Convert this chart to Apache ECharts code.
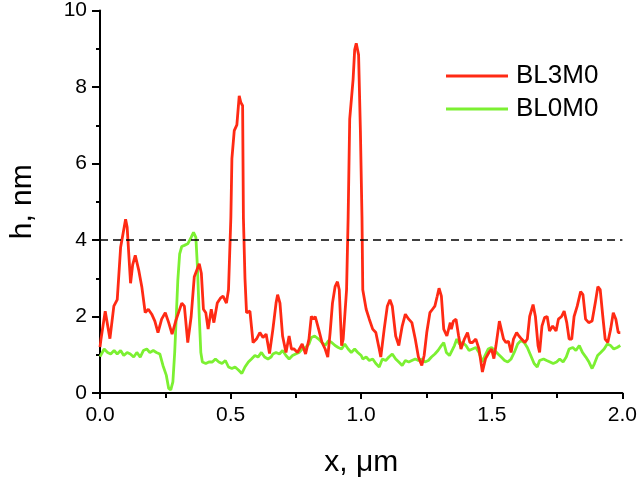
<!DOCTYPE html>
<html>
<head>
<meta charset="utf-8">
<script src="https://cdn.jsdelivr.net/npm/echarts@6/dist/echarts.min.js"></script>
<style>html,body{margin:0;padding:0;background:#fff}#c{width:640px;height:483px}</style>
</head>
<body>
<div id="c"></div>
<script>
const seriesNames = ['BL3M0', 'BL0M0'];
const xTicks = [0, 0.5, 1.0, 1.5, 2.0];
const yTicks = [0, 2, 4, 6, 8, 10];
const refLevel = 4;

const redX = [0.0,0.004,0.02,0.038,0.053,0.066,0.079,0.098,0.104,0.117,0.125,0.135,0.148,0.16,0.173,0.185,0.198,0.21,0.222,0.236,0.25,0.263,0.276,0.292,0.313,0.323,0.336,0.349,0.361,0.38,0.388,0.396,0.405,0.414,0.426,0.436,0.449,0.461,0.471,0.484,0.492,0.501,0.505,0.514,0.524,0.533,0.539,0.546,0.549,0.555,0.561,0.574,0.586,0.599,0.612,0.624,0.636,0.649,0.662,0.674,0.68,0.689,0.699,0.712,0.724,0.733,0.743,0.756,0.774,0.787,0.8,0.809,0.818,0.824,0.837,0.85,0.862,0.872,0.881,0.89,0.9,0.909,0.916,0.925,0.931,0.944,0.95,0.956,0.969,0.975,0.981,0.99,0.997,1.003,1.006,1.019,1.031,1.044,1.056,1.069,1.075,1.088,1.1,1.11,1.119,1.132,1.144,1.157,1.169,1.182,1.194,1.207,1.219,1.232,1.241,1.251,1.263,1.273,1.282,1.291,1.298,1.307,1.316,1.328,1.341,1.345,1.353,1.363,1.373,1.382,1.395,1.407,1.416,1.426,1.439,1.451,1.464,1.476,1.489,1.499,1.508,1.516,1.529,1.536,1.545,1.554,1.564,1.574,1.583,1.595,1.604,1.614,1.627,1.636,1.645,1.658,1.667,1.677,1.683,1.692,1.702,1.712,1.721,1.733,1.746,1.755,1.767,1.777,1.787,1.796,1.806,1.815,1.827,1.84,1.849,1.859,1.871,1.884,1.896,1.906,1.915,1.925,1.934,1.944,1.955,1.965,1.975,1.984,1.992];
const redY = [1.2,1.42,2.14,1.42,2.27,2.44,3.81,4.54,4.33,2.87,3.35,3.6,3.22,2.78,2.1,2.19,2.06,1.88,1.58,1.93,2.1,1.84,1.54,1.93,2.35,2.27,1.32,2.0,3.04,3.38,3.13,2.19,2.1,1.67,2.19,1.84,2.35,2.48,2.53,2.35,2.7,4.59,6.13,6.86,7.01,7.77,7.6,7.51,4.59,3.0,2.1,2.14,1.32,1.41,1.58,1.45,1.54,1.03,1.67,2.35,2.57,2.35,1.49,1.06,1.49,1.15,1.15,1.06,1.28,1.02,1.41,2.0,1.93,2.0,1.67,1.32,1.15,0.94,1.58,2.35,2.78,2.91,2.7,1.24,1.41,2.7,4.59,7.16,8.2,8.97,9.14,8.84,6.83,4.59,2.7,2.19,1.93,1.67,1.58,1.15,0.94,1.67,2.27,2.44,2.27,1.49,1.24,1.75,2.06,1.93,1.84,1.41,0.94,0.72,0.98,1.58,2.1,2.19,2.27,2.53,2.74,2.53,1.67,1.49,1.84,1.67,1.88,1.93,1.49,1.15,1.41,1.58,1.32,1.32,1.41,1.15,0.55,0.9,1.06,1.15,0.9,1.24,1.88,1.84,1.41,1.32,1.35,1.06,1.41,1.58,1.49,1.41,1.32,1.41,2.0,2.31,2.0,1.24,1.06,1.75,1.97,2.0,1.62,1.75,1.62,1.93,2.0,2.14,1.84,1.41,1.41,2.0,2.27,2.65,2.57,1.93,1.84,1.88,2.35,2.78,2.7,2.0,1.41,1.32,1.67,2.1,1.93,1.58,1.58];

const greenX = [0.0,0.004,0.016,0.029,0.041,0.054,0.066,0.079,0.091,0.104,0.116,0.129,0.141,0.154,0.166,0.179,0.191,0.204,0.216,0.229,0.241,0.254,0.263,0.271,0.279,0.286,0.292,0.298,0.305,0.313,0.323,0.336,0.349,0.358,0.367,0.373,0.38,0.386,0.392,0.405,0.417,0.43,0.442,0.455,0.467,0.48,0.492,0.505,0.517,0.53,0.543,0.555,0.568,0.58,0.593,0.605,0.618,0.63,0.643,0.655,0.662,0.674,0.687,0.699,0.712,0.724,0.737,0.749,0.762,0.774,0.787,0.8,0.809,0.822,0.837,0.85,0.862,0.875,0.887,0.9,0.912,0.925,0.937,0.95,0.962,0.975,0.987,1.0,1.006,1.019,1.031,1.044,1.056,1.069,1.081,1.094,1.106,1.119,1.132,1.144,1.157,1.169,1.182,1.194,1.207,1.219,1.232,1.244,1.257,1.269,1.282,1.294,1.307,1.316,1.326,1.338,1.345,1.357,1.366,1.376,1.388,1.401,1.413,1.426,1.439,1.451,1.464,1.474,1.486,1.499,1.511,1.524,1.536,1.549,1.561,1.574,1.586,1.599,1.611,1.624,1.636,1.649,1.662,1.674,1.683,1.698,1.71,1.723,1.735,1.748,1.76,1.773,1.785,1.796,1.81,1.822,1.835,1.847,1.86,1.872,1.884,1.893,1.905,1.917,1.93,1.942,1.955,1.967,1.98,1.992];
const greenY = [0.95,0.98,1.15,1.06,1.02,1.11,1.02,1.11,0.98,1.06,1.02,0.94,1.06,0.94,1.11,1.15,1.06,1.11,1.06,1.02,0.72,0.46,0.12,0.08,0.29,1.06,2.0,2.96,3.64,3.83,3.86,3.9,4.07,4.2,4.07,3.3,2.0,1.06,0.81,0.77,0.81,0.81,0.89,0.81,0.77,0.85,0.68,0.64,0.68,0.6,0.51,0.68,0.81,0.89,0.98,0.94,1.06,0.94,0.89,0.94,1.02,1.06,1.02,1.11,0.98,0.89,0.98,1.02,1.06,1.15,1.19,1.28,1.45,1.49,1.41,1.32,1.24,1.37,1.32,1.24,1.19,1.15,1.28,1.15,1.06,1.15,1.06,0.98,0.89,0.94,0.85,0.89,0.77,0.68,0.89,0.85,0.94,1.02,0.89,0.81,0.72,0.85,0.81,0.85,0.89,0.85,0.89,0.81,0.85,0.94,1.02,1.11,1.24,1.32,1.06,0.98,1.02,1.24,1.41,1.28,1.32,1.24,1.11,1.15,1.19,1.06,0.81,0.98,1.15,1.19,1.11,1.02,0.94,0.85,0.81,0.89,1.06,1.28,1.37,1.32,1.19,0.98,0.77,0.68,0.85,0.89,0.85,0.81,0.77,0.81,0.89,0.81,0.94,1.15,1.19,1.11,1.24,1.06,0.94,0.81,0.64,0.77,0.98,1.06,1.15,1.28,1.24,1.15,1.19,1.24];

const pairs = (xs, ys) => xs.map((x, i) => [x, ys[i]]);
const FONT = "'Liberation Sans', Arial, sans-serif";
const RED = '#ff2a14';
const GREEN = '#7cf032';

const chart = echarts.init(document.getElementById('c'), null, {renderer: 'canvas'});
chart.setOption({
  animation: false,
  backgroundColor: '#ffffff',
  grid: {left: 94, right: 14, top: 10, bottom: 85, containLabel: false},
  legend: {
    data: seriesNames,
    orient: 'vertical',
    left: 446, top: 63,
    padding: 0,
    itemGap: 7,
    itemWidth: 62, itemHeight: 3,
    icon: 'rect',
    textStyle: {fontFamily: FONT, fontSize: 26, color: '#000', lineHeight: 26, padding: [0, 0, 0, 3]}
  },
  xAxis: {
    type: 'value', min: xTicks[0], max: xTicks[xTicks.length - 1], interval: 0.5,
    name: 'x, μm', nameLocation: 'middle', nameGap: 55,
    nameTextStyle: {fontFamily: FONT, fontSize: 30, color: '#000'},
    axisLine: {show: true, onZero: false, lineStyle: {color: '#000', width: 2}},
    axisTick: {show: true, inside: false, length: 6, lineStyle: {color: '#000', width: 2}},
    minorTick: {show: true, splitNumber: 2, length: 5, lineStyle: {color: '#000', width: 2}},
    splitLine: {show: false},
    axisLabel: {fontFamily: FONT, fontSize: 21, color: '#000', margin: 12, formatter: v => v.toFixed(1)}
  },
  yAxis: {
    type: 'value', min: yTicks[0], max: yTicks[yTicks.length - 1], interval: 2,
    name: 'h, nm', nameLocation: 'middle', nameGap: 62, nameRotate: 90,
    nameTextStyle: {fontFamily: FONT, fontSize: 30, color: '#000'},
    axisLine: {show: true, onZero: false, lineStyle: {color: '#000', width: 2}},
    axisTick: {show: true, inside: false, length: 8, lineStyle: {color: '#000', width: 2}},
    minorTick: {show: true, splitNumber: 2, length: 4, lineStyle: {color: '#000', width: 2}},
    splitLine: {show: false},
    axisLabel: {fontFamily: FONT, fontSize: 21, color: '#000', margin: 13}
  },
  series: [
    {
      name: seriesNames[1], type: 'line', data: pairs(greenX, greenY),
      showSymbol: false, symbol: 'none', z: 2,
      lineStyle: {color: GREEN, width: 2.8}, itemStyle: {color: GREEN}
    },
    {
      name: seriesNames[0], type: 'line', data: pairs(redX, redY),
      showSymbol: false, symbol: 'none', z: 3,
      lineStyle: {color: RED, width: 2.8}, itemStyle: {color: RED},
      markLine: {
        silent: true, symbol: 'none', label: {show: false},
        lineStyle: {color: '#000', width: 1.5, type: [8, 5]},
        data: [[{coord: [xTicks[0], refLevel]}, {coord: [xTicks[xTicks.length - 1], refLevel]}]]
      }
    }
  ]
});
</script>
</body>
</html>
